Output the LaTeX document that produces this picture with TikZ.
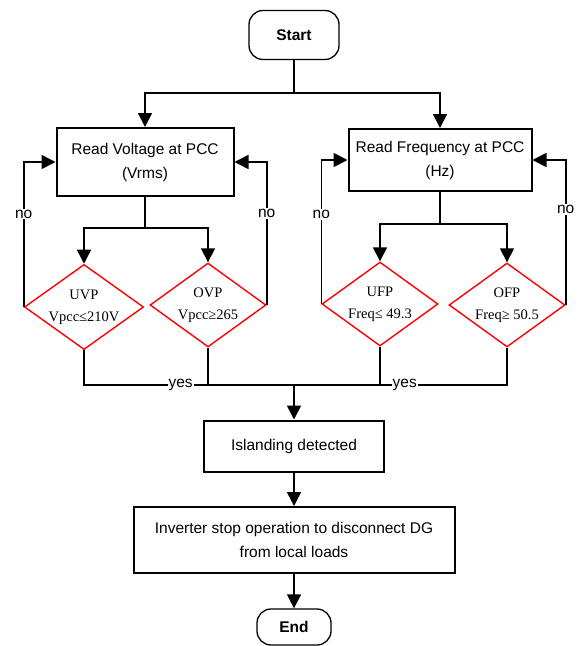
\documentclass[tikz,border=0pt]{standalone}
\usepackage{fontspec}
\setmainfont{Liberation Sans}
\newfontfamily\timesfont{Liberation Serif}
\usetikzlibrary{shapes.geometric, arrows.meta, positioning}
\tikzstyle{arrow}    = [line width=1.6pt, -{Triangle[length=14pt, width=14pt]}]
\tikzstyle{edge}     = [line width=1.6pt]
\tikzstyle{terminal} = [draw, line width=1.3pt, rounded corners=14pt, inner sep=0pt, font=\bfseries\fontsize{15.5}{18}\selectfont]
\tikzstyle{process}  = [draw, line width=2pt, inner sep=0pt, align=center, font=\fontsize{15.5}{24}\selectfont]
\tikzstyle{decision} = [draw=red, line width=1.4pt, diamond, aspect=1.4, inner sep=0pt, minimum width=116pt, minimum height=84pt, align=center, font=\timesfont\fontsize{14.5}{22}\selectfont]
\tikzstyle{answer}   = [fill=white, inner sep=1pt, font=\fontsize{15.5}{18}\selectfont]

\begin{document}
\begin{tikzpicture}[x=1pt, y=-1pt]
\useasboundingbox (0,0) rectangle (581,646);

% start and reading
\node[terminal, minimum width=90pt, minimum height=49pt] (start) at (294,35) {Start};
\node[process, minimum width=177pt, minimum height=68pt] (volt) at (145,162) {Read Voltage at PCC\\(Vrms)};
\node[process, minimum width=183pt, minimum height=62pt] (freq) at (440,160) {Read Frequency at PCC\\(Hz)};

% protections
\node[decision] (uvp) at (84,307) {UVP\\Vpcc≤210V};
\node[decision] (ovp) at (208,305) {OVP\\Vpcc≥265};
\node[decision] (ufp) at (380,304) {UFP\\Freq≤ 49.3};
\node[decision] (ofp) at (507,305) {OFP\\Freq≥ 50.5};

% result
\node[process, minimum width=180pt, minimum height=51pt] (island) at (294,446) {Islanding detected};
\node[process, minimum width=321pt, minimum height=66pt] (stop) at (294,540) {Inverter stop operation to disconnect DG\\from local loads};
\node[terminal, minimum width=74pt, minimum height=36pt] (end) at (294,627) {End};

\coordinate (top) at (294,93);
\coordinate (vsplit) at (145,228);
\coordinate (fsplit) at (440,224);
\coordinate (join) at (294,385);

% branching
\draw[edge] (start) -- (top);
\draw[arrow] (top) -| (volt);
\draw[arrow] (top) -| (freq);

\draw[edge] (volt) -- (vsplit);
\draw[arrow] (vsplit) -| (uvp);
\draw[arrow] (vsplit) -| (ovp);

\draw[edge] (freq) -- (fsplit);
\draw[arrow] (fsplit) -| (ufp);
\draw[arrow] (fsplit) -| (ofp);

% no -> read again
\draw[arrow] (uvp.west) |- node[answer, pos=0.32] {no} (volt.west);
\draw[arrow] (ovp.east) |- node[answer, pos=0.32] {no} (volt.east);
\draw[arrow] (ufp.west) |- node[answer, pos=0.31] {no} (freq.west);
\draw[arrow] (ofp.east) |- node[answer, pos=0.33] {no} (freq.east);

% yes -> islanding
\draw[edge] (uvp.south) |- node[answer, pos=0.73] {yes} (join);
\draw[edge] (ovp.south) -- (ovp.south |- join);
\draw[edge] (ofp.south) |- node[answer, pos=0.74] {yes} (join);
\draw[edge] (ufp.south) -- (ufp.south |- join);

\draw[arrow] (join) -- (island);
\draw[arrow] (island) -- (stop);
\draw[arrow] (stop) -- (end);

\end{tikzpicture}
\end{document}
